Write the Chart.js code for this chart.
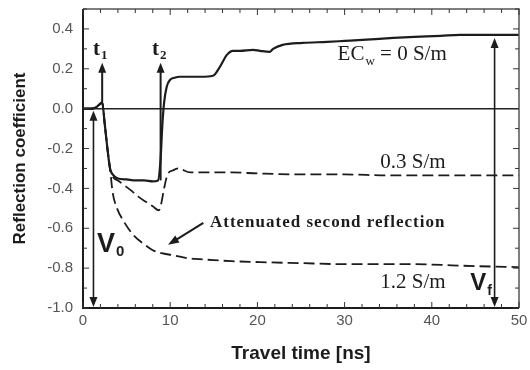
<!DOCTYPE html>
<html>
<head>
<meta charset="utf-8">
<script src="https://cdn.jsdelivr.net/npm/chart.js@4.4.1/dist/chart.umd.min.js"></script>
<style>
  html, body { margin: 0; padding: 0; background: #fff; }
</style>
</head>
<body>
<canvas id="myChart" width="530" height="370"></canvas>
<script>
// EC_w = 0 S/m (solid)
const timeFresh = [0, 1.0, 1.6, 2.2, 2.5, 2.8, 3.1, 3.4, 4, 5, 6, 7, 8, 8.6, 8.9, 9.1, 9.3, 9.6, 10.0, 10.5, 11.1, 12.5, 13.5, 14.9, 15.7, 16.5, 17.2, 18.0, 19.5, 20.3, 21.4, 21.8, 22.9, 25.2, 28, 30, 32, 35.6, 38, 41, 43.2, 47, 50];
const reflFresh = [0.0, 0.0, 0.01, 0.03, -0.08, -0.20, -0.30, -0.33, -0.35, -0.355, -0.36, -0.36, -0.365, -0.36, -0.25, -0.08, 0.03, 0.11, 0.145, 0.155, 0.16, 0.16, 0.16, 0.165, 0.21, 0.27, 0.29, 0.29, 0.295, 0.29, 0.285, 0.30, 0.32, 0.33, 0.335, 0.34, 0.345, 0.355, 0.36, 0.365, 0.37, 0.37, 0.37];

// 0.3 S/m (dashed)
const timeMid = [0, 1.0, 1.6, 2.2, 2.5, 2.8, 3.1, 3.4, 4.0, 4.6, 5.5, 6.3, 7.3, 8.0, 8.7, 9.0, 9.3, 9.7, 10.3, 10.9, 12.3, 14, 17, 20, 25, 30, 35, 40, 45, 50];
const reflMid = [0.0, 0.0, 0.01, 0.03, -0.08, -0.20, -0.30, -0.34, -0.36, -0.38, -0.41, -0.44, -0.47, -0.49, -0.51, -0.47, -0.40, -0.33, -0.31, -0.30, -0.32, -0.32, -0.32, -0.325, -0.33, -0.33, -0.335, -0.335, -0.335, -0.335];

// 1.2 S/m (dashed)
const timeHigh = [0, 1.0, 1.6, 2.2, 2.5, 2.8, 3.1, 3.4, 3.9, 4.6, 5.7, 7.0, 8.0, 9.0, 10.3, 12, 13.4, 15, 17, 20.3, 25, 30, 37.5, 45, 50];
const reflHigh = [0.0, 0.0, 0.01, 0.03, -0.08, -0.20, -0.30, -0.42, -0.50, -0.56, -0.63, -0.68, -0.71, -0.725, -0.735, -0.75, -0.755, -0.76, -0.765, -0.77, -0.775, -0.78, -0.78, -0.79, -0.795];

const xTickValues = [0, 10, 20, 30, 40, 50];
const yTickValues = [-1.0, -0.8, -0.6, -0.4, -0.2, 0.0, 0.2, 0.4];

const ink = "#1c1c1c";

function toPoints(ts, vs) {
  return ts.map((t, i) => ({ x: t, y: vs[i] }));
}

function arrowHead(ctx, x, y, dir) {
  // dir: -1 points up, 1 points down
  ctx.beginPath();
  ctx.moveTo(x, y);
  ctx.lineTo(x - 4, y - dir * 10);
  ctx.lineTo(x + 4, y - dir * 10);
  ctx.closePath();
  ctx.fill();
}

function subText(ctx, main, sub, x, y, font, subFont, drop) {
  ctx.font = font;
  ctx.fillText(main, x, y);
  const w = ctx.measureText(main).width;
  ctx.font = subFont;
  ctx.fillText(sub, x + w + 1, y + drop);
  return x + w + 1 + ctx.measureText(sub).width;
}

const notesPlugin = {
  id: "notes",
  afterDatasetsDraw(chart) {
    const { ctx, scales: { x, y }, chartArea: a } = chart;
    ctx.save();

    // frame
    ctx.strokeStyle = "#555";
    ctx.lineWidth = 1.5;
    ctx.beginPath();
    ctx.moveTo(a.left, a.top);
    ctx.lineTo(a.right, a.top);
    ctx.lineTo(a.right, a.bottom);
    ctx.stroke();
    ctx.strokeStyle = ink;
    ctx.lineWidth = 2;
    ctx.beginPath();
    ctx.moveTo(a.left, a.top);
    ctx.lineTo(a.left, a.bottom);
    ctx.lineTo(a.right, a.bottom);
    ctx.stroke();

    // inward ticks
    ctx.lineWidth = 1;
    ctx.strokeStyle = "#333";
    ctx.beginPath();
    for (let t = 0; t <= 50; t += 2) {
      const px = x.getPixelForValue(t);
      const len = t % 10 === 0 ? 6 : 4;
      ctx.moveTo(px, a.bottom);
      ctx.lineTo(px, a.bottom - len);
      ctx.moveTo(px, a.top);
      ctx.lineTo(px, a.top + len);
    }
    for (let k = -10; k <= 5; k++) {
      const py = y.getPixelForValue(k / 10);
      const len = k % 2 === 0 ? 6 : 4;
      ctx.moveTo(a.left, py);
      ctx.lineTo(a.left + len, py);
      ctx.moveTo(a.right, py);
      ctx.lineTo(a.right - len, py);
    }
    ctx.stroke();

    ctx.fillStyle = ink;
    ctx.strokeStyle = ink;

    // t1 and t2 arrows
    ctx.lineWidth = 2;
    [[2.2, 0.03], [8.9, -0.36]].forEach(([t, from]) => {
      const px = x.getPixelForValue(t);
      const top = y.getPixelForValue(0.23);
      ctx.beginPath();
      ctx.moveTo(px, y.getPixelForValue(from));
      ctx.lineTo(px, top + 6);
      ctx.stroke();
      arrowHead(ctx, px, top, -1);
    });

    // V0 and Vf double arrows
    ctx.lineWidth = 1.6;
    [[1.2, -0.01], [47.2, 0.355]].forEach(([t, hi]) => {
      const px = x.getPixelForValue(t);
      const top = y.getPixelForValue(hi);
      const bot = y.getPixelForValue(-1.0) - 1;
      ctx.beginPath();
      ctx.moveTo(px, top + 6);
      ctx.lineTo(px, bot - 6);
      ctx.stroke();
      arrowHead(ctx, px, top, -1);
      arrowHead(ctx, px, bot, 1);
    });

    // arrow to attenuated second reflection
    const ax1 = x.getPixelForValue(13.8), ay1 = y.getPixelForValue(-0.573);
    const ax2 = x.getPixelForValue(9.75), ay2 = y.getPixelForValue(-0.683);
    const ang = Math.atan2(ay2 - ay1, ax2 - ax1);
    ctx.lineWidth = 2;
    ctx.beginPath();
    ctx.moveTo(ax1, ay1);
    ctx.lineTo(ax2 - 8 * Math.cos(ang), ay2 - 8 * Math.sin(ang));
    ctx.stroke();
    ctx.beginPath();
    ctx.moveTo(ax2, ay2);
    ctx.lineTo(ax2 - 11 * Math.cos(ang) + 4 * Math.sin(ang), ay2 - 11 * Math.sin(ang) - 4 * Math.cos(ang));
    ctx.lineTo(ax2 - 11 * Math.cos(ang) - 4 * Math.sin(ang), ay2 - 11 * Math.sin(ang) + 4 * Math.cos(ang));
    ctx.closePath();
    ctx.fill();

    // labels
    ctx.textBaseline = "alphabetic";
    ctx.textAlign = "left";
    const serif = '"Liberation Serif", "DejaVu Serif", serif';
    const sans = '"Liberation Sans", Arial, sans-serif';
    subText(ctx, "t", "1", x.getPixelForValue(1.15), y.getPixelForValue(0.27), "bold 21px " + serif, "bold 13px " + serif, 4);
    subText(ctx, "t", "2", x.getPixelForValue(7.9), y.getPixelForValue(0.27), "bold 21px " + serif, "bold 13px " + serif, 4);

    const ecEnd = subText(ctx, "EC", "w", x.getPixelForValue(29.2), y.getPixelForValue(0.246), "21px " + serif, "13px " + serif, 5);
    ctx.font = "21px " + serif;
    ctx.fillText(" = 0 S/m", ecEnd, y.getPixelForValue(0.246));

    ctx.font = "21px " + serif;
    ctx.fillText("0.3 S/m", x.getPixelForValue(34.1), y.getPixelForValue(-0.296));
    ctx.fillText("1.2 S/m", x.getPixelForValue(34.1), y.getPixelForValue(-0.90));

    ctx.font = "bold 17px " + serif;
    ctx.letterSpacing = "1px";
    ctx.fillText("Attenuated second reflection", x.getPixelForValue(14.56), y.getPixelForValue(-0.593));
    ctx.letterSpacing = "0px";

    subText(ctx, "V", "0", x.getPixelForValue(1.6), y.getPixelForValue(-0.72), "bold 27px " + sans, "bold 15px " + sans, 4);
    subText(ctx, "V", "f", x.getPixelForValue(44.4), y.getPixelForValue(-0.91), "bold 24px " + sans, "bold 14px " + sans, 5);

    ctx.restore();
  }
};

const lineBase = {
  borderColor: ink,
  pointRadius: 0,
  fill: false,
  cubicInterpolationMode: "monotone",
};

const config = {
  type: "line",
  data: {
    datasets: [
      { ...lineBase, label: "0 S/m", data: toPoints(timeFresh, reflFresh), borderWidth: 2.2 },
      { ...lineBase, label: "0.3 S/m", data: toPoints(timeMid, reflMid), borderWidth: 1.8, borderDash: [11, 5] },
      { ...lineBase, label: "1.2 S/m", data: toPoints(timeHigh, reflHigh), borderWidth: 1.8, borderDash: [11, 5] },
    ],
  },
  options: {
    responsive: false,
    animation: false,
    layout: { padding: { top: 9, right: 11, left: 0, bottom: 0 } },
    plugins: { legend: { display: false }, tooltip: { enabled: false } },
    scales: {
      x: {
        type: "linear",
        min: 0,
        max: 50,
        afterFit: (s) => { s.height = 62; s.paddingLeft = 0; s.paddingRight = 0; },
        afterBuildTicks: (s) => { s.ticks = xTickValues.map((v) => ({ value: v })); },
        grid: { display: false, drawTicks: false },
        border: { display: false },
        ticks: { color: "#555", padding: 4, font: { family: "Liberation Sans", size: 15 } },
        title: {
          display: true,
          text: "Travel time [ns]",
          color: ink,
          padding: { top: 0, bottom: 5 },
          font: { family: "Liberation Sans", size: 19, weight: "bold" },
        },
      },
      y: {
        min: -1.0,
        max: 0.5,
        afterFit: (s) => { s.width = 83; s.paddingTop = 0; s.paddingBottom = 0; },
        afterBuildTicks: (s) => { s.ticks = yTickValues.map((v) => ({ value: v })); },
        grid: {
          drawTicks: false,
          color: (c) => (c.tick && c.tick.value === 0 ? "#222" : "transparent"),
          lineWidth: 1.6,
        },
        border: { display: false },
        ticks: {
          color: "#555",
          padding: 10,
          font: { family: "Liberation Sans", size: 15 },
          callback: (v) => Number(v).toFixed(1),
        },
        title: {
          display: true,
          text: "Reflection coefficient",
          color: ink,
          padding: { top: 10, bottom: 0 },
          font: { family: "Liberation Sans", size: 17, weight: "bold" },
        },
      },
    },
  },
  plugins: [notesPlugin],
};

var myChart = new Chart(document.getElementById("myChart"), config);
</script>
</body>
</html>
